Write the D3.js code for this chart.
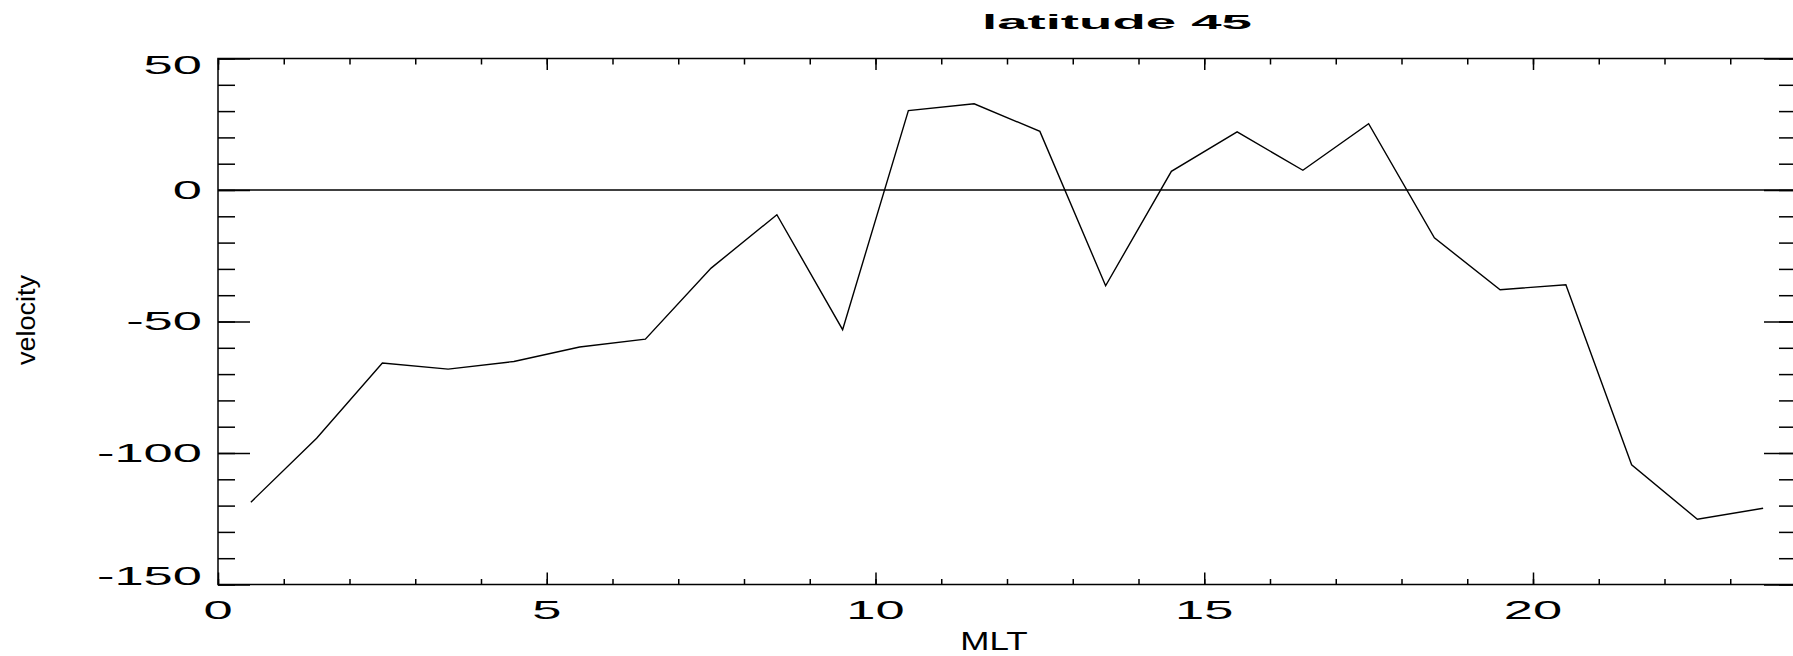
<!DOCTYPE html>
<html>
<head>
<meta charset="utf-8">
<script src="https://cdn.jsdelivr.net/npm/d3@7/dist/d3.min.js"></script>
<style>
  html, body { margin: 0; padding: 0; background: #ffffff; }
  svg { display: block; }
  text { font-family: "Liberation Sans", Arial, sans-serif; fill: #000; }
</style>
</head>
<body>
<svg id="chart" width="1793" height="656"></svg>
<script>
// ---- data ----
const mlt = [0.5, 1.5, 2.5, 3.5, 4.5, 5.5, 6.5, 7.5, 8.5, 9.5, 10.5, 11.5,
             12.5, 13.5, 14.5, 15.5, 16.5, 17.5, 18.5, 19.5, 20.5, 21.5, 22.5, 23.5];
const velocity = [-118.7, -94.4, -65.8, -68.1, -65.2, -59.7, -56.7, -29.7, -9.4, -53.1, 30.2, 32.8,
                  22.3, -36.4, 7.1, 22.1, 7.5, 25.2, -18.2, -37.9, -36.0, -104.5, -125.2, -121.0];
const xMajorTicks = [0, 5, 10, 15, 20];
const xMinorTicks = d3.range(0, 25, 1);
const yMajorTicks = [50, 0, -50, -100, -150];
const yMinorTicks = d3.range(-150, 51, 10);
const titleText = "latitude 45";
const xLabel = "MLT";
const yLabel = "velocity";

(function () {
// ---- layout ----
const svg = d3.select("#chart");
const pL = 218, pR = 1796, pT = 58.5, pB = 584.5;
const x = d3.scaleLinear().domain([0, 24]).range([pL, pR]);
const y = d3.scaleLinear().domain([-150, 50]).range([pB, pT]);

const g = svg.append("g");

function styleAxis(sel) {
  sel.select(".domain").remove();
  sel.selectAll("line").attr("stroke", "#000").attr("stroke-width", 1.5);
  sel.selectAll("text").remove();
}

// minor ticks
g.append("g").attr("transform", `translate(${pL},0)`)
  .call(d3.axisLeft(y).tickValues(yMinorTicks).tickSize(-17)).call(styleAxis);
g.append("g").attr("transform", `translate(${pR},0)`)
  .call(d3.axisRight(y).tickValues(yMinorTicks).tickSize(-17)).call(styleAxis);
g.append("g").attr("transform", `translate(0,${pB})`)
  .call(d3.axisBottom(x).tickValues(xMinorTicks).tickSize(-5.5)).call(styleAxis);
g.append("g").attr("transform", `translate(0,${pT})`)
  .call(d3.axisTop(x).tickValues(xMinorTicks).tickSize(-6)).call(styleAxis);
// major ticks
g.append("g").attr("transform", `translate(${pL},0)`)
  .call(d3.axisLeft(y).tickValues(yMajorTicks).tickSize(-32)).call(styleAxis);
g.append("g").attr("transform", `translate(${pR},0)`)
  .call(d3.axisRight(y).tickValues(yMajorTicks).tickSize(-32)).call(styleAxis);
g.append("g").attr("transform", `translate(0,${pB})`)
  .call(d3.axisBottom(x).tickValues(xMajorTicks).tickSize(-12)).call(styleAxis);
g.append("g").attr("transform", `translate(0,${pT})`)
  .call(d3.axisTop(x).tickValues(xMajorTicks).tickSize(-11.5)).call(styleAxis);

// frame
g.append("rect").attr("x", pL).attr("y", pT)
  .attr("width", pR - pL).attr("height", pB - pT)
  .attr("fill", "none").attr("stroke", "#000").attr("stroke-width", 1.5);

// zero line
g.append("line").attr("x1", x(0)).attr("x2", x(24)).attr("y1", y(0)).attr("y2", y(0))
  .attr("stroke", "#000").attr("stroke-width", 1.3);

// data line
const line = d3.line().x((d, i) => x(mlt[i])).y(d => y(d));
g.append("path").datum(velocity).attr("d", line)
  .attr("fill", "none").attr("stroke", "#000").attr("stroke-width", 1.4)
  .attr("stroke-linejoin", "miter");

// y tick labels
const fs = 25, sx = 2.1;
yMajorTicks.forEach(v => {
  const cy = Math.max(65, Math.min(576, y(v)));
  g.append("g").attr("transform", `translate(202,${cy + 0.358 * fs}) scale(${sx},1)`)
    .append("text").attr("text-anchor", "end").attr("font-size", fs)
    .text(String(v));
});
// x tick labels
xMajorTicks.forEach(v => {
  g.append("g").attr("transform", `translate(${x(v)},619) scale(${sx},1)`)
    .append("text").attr("text-anchor", "middle").attr("font-size", fs)
    .text(String(v));
});

// titles
svg.append("text").attr("x", 1117).attr("y", 28.5).attr("text-anchor", "middle")
  .attr("font-size", 21).attr("font-weight", "bold")
  .attr("textLength", 270).attr("lengthAdjust", "spacingAndGlyphs")
  .text(titleText);

svg.append("g").attr("transform", `translate(994,650) scale(1.4,1)`)
  .append("text").attr("text-anchor", "middle").attr("font-size", 25).text(xLabel);

svg.append("text").attr("transform", "translate(35,320) rotate(-90)")
  .attr("text-anchor", "middle").attr("font-size", 25)
  .attr("textLength", 90).attr("lengthAdjust", "spacingAndGlyphs")
  .text(yLabel);
})();
</script>
</body>
</html>
